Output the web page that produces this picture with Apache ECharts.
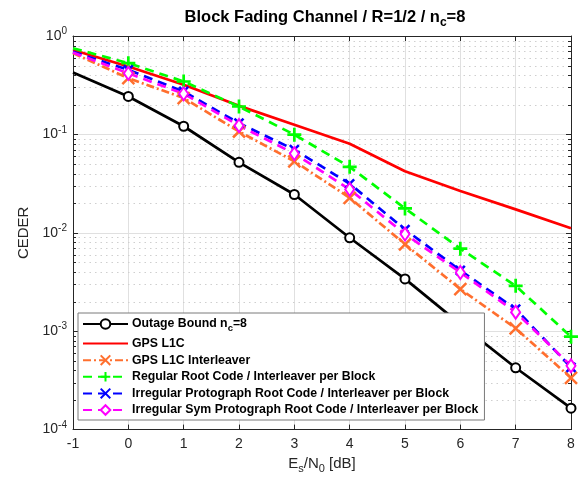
<!DOCTYPE html>
<html><head><meta charset="utf-8">
<script src="https://cdn.jsdelivr.net/npm/echarts@6/dist/echarts.min.js"></script>
<style>html,body{margin:0;padding:0;background:#fff}#c{width:578px;height:479px}</style>
</head><body><div id="c"></div>
<script>
const xValues = [-1, 0, 1, 2, 3, 4, 5, 6, 7, 8];
const outageBound = [0.426, 0.243, 0.121, 0.052, 0.0245, 0.0089, 0.0034, 0.00118, 0.000425, 0.000165];
const gpsL1C = [0.72, 0.489, 0.319, 0.195, 0.1256, 0.0805, 0.0423, 0.0266, 0.0173, 0.0111];
const gpsL1CInterleaver = [0.67, 0.373, 0.234, 0.107, 0.0533, 0.0227, 0.00764, 0.00268, 0.00107, 0.000335];
const regularRoot = [0.75, 0.53, 0.345, 0.192, 0.0994, 0.0468, 0.0177, 0.0069, 0.00289, 0.00088];
const irregularProto = [0.69, 0.453, 0.273, 0.13, 0.070, 0.0315, 0.0108, 0.00415, 0.00168, 0.00043];
const irregularSymProto = [0.68, 0.418, 0.259, 0.123, 0.0638, 0.0276, 0.0097, 0.00395, 0.00156, 0.000445];
const seriesNames = ['Outage Bound n_c=8', 'GPS L1C', 'GPS L1C Interleaver', 'Regular Root Code / Interleaver per Block', 'Irregular Protograph Root Code / Interleaver per Block', 'Irregular Sym Protograph Root Code / Interleaver per Block'];
const xTicks = [-1, 0, 1, 2, 3, 4, 5, 6, 7, 8];
const yDecades = [1e-4, 1e-3, 1e-2, 1e-1, 1];
const minorTicks = [];
for (let d = -4; d < 0; d++) for (let m = 2; m <= 9; m++) minorTicks.push(m * Math.pow(10, d));

const TXT = '#262626';
const FONT = '"Liberation Sans", Arial, Helvetica, sans-serif';

function pts(arr, markers) {
  return arr.map((v, i) => ({ value: [xValues[i], v], symbol: (markers && i > 0) ? undefined : 'none' }));
}
const X_PATH = 'path://M0,0L10,10M10,0L0,10';
const PLUS_PATH = 'path://M5,0L5,10M0,5L10,5';
const DIAMOND = 'path://M5,0L9,7L5,14L1,7Z';

const chart = echarts.init(document.getElementById('c'), null, { renderer: 'canvas' });
const option = {
  animation: false,
  backgroundColor: '#fff',
  title: {
    text: '{t|Block Fading Channel / R=1/2 / n}{s|c}{t|=8}',
    left: 320, textAlign: 'center', top: 4,
    textStyle: {
      rich: {
        t: { fontFamily: FONT, fontSize: 16.5, fontWeight: 'bold', color: '#000' },
        s: { fontFamily: FONT, fontSize: 12, fontWeight: 'bold', color: '#000', padding: [0, 0, -10, 0] }
      }
    }
  },
  grid: { left: 73, right: 7, top: 36, bottom: 48, containLabel: false },
  legend: {
    orient: 'vertical', left: 78, top: 313, z: 20,
    backgroundColor: '#fff', borderColor: '#7a7a7a', borderWidth: 1,
    padding: [5, 6, 4, 4], itemGap: 4.6, itemWidth: 45, itemHeight: 12,
    data: seriesNames.map(n => n === 'GPS L1C'
      ? { name: n, itemStyle: { opacity: 0, color: 'rgba(0,0,0,0)', borderColor: 'rgba(0,0,0,0)' } }
      : { name: n }),
    formatter: function (name) {
      if (name === seriesNames[0]) return '{a|Outage Bound n}{s|c}{a|=8}';
      return '{a|' + name + '}';
    },
    textStyle: {
      fontFamily: FONT, fontSize: 12.3, fontWeight: 'bold', color: '#000', padding: [0, 0, 0, -1],
      rich: {
        a: { fontFamily: FONT, fontSize: 12.3, fontWeight: 'bold', color: '#000' },
        s: { fontFamily: FONT, fontSize: 9.5, fontWeight: 'bold', color: '#000', padding: [0, 0, -8, 0] }
      }
    }
  },
  xAxis: [{
    type: 'value', min: -1, max: 8, interval: 1, position: 'bottom',
    name: '{n|E}{s|s}{n|/N}{s|0}{n| [dB]}', nameLocation: 'middle', nameGap: 25,
    nameTextStyle: { rich: {
      n: { fontFamily: FONT, fontSize: 15, color: TXT },
      s: { fontFamily: FONT, fontSize: 11, color: TXT, padding: [0, 0, -9, 0] }
    } },
    axisLine: { show: true, onZero: false, lineStyle: { color: TXT, width: 1 } },
    axisTick: { show: true, inside: true, length: 5, lineStyle: { color: TXT } },
    axisLabel: { fontFamily: FONT, fontSize: 14, color: TXT, margin: 8 },
    splitLine: { show: true, lineStyle: { color: '#e0e0e0', width: 1 } }
  }, {
    type: 'value', min: -1, max: 8, interval: 1, position: 'top',
    axisLine: { show: true, onZero: false, lineStyle: { color: TXT, width: 1 } },
    axisTick: { show: true, inside: true, length: 5, lineStyle: { color: TXT } },
    axisLabel: { show: false }, splitLine: { show: false }
  }],
  yAxis: [{
    type: 'log', logBase: 10, min: 1e-4, max: 1, position: 'left',
    name: 'CEDER', nameLocation: 'middle', nameGap: 42, nameRotate: 90,
    nameTextStyle: { fontFamily: FONT, fontSize: 15, color: TXT },
    axisLine: { show: true, onZero: false, lineStyle: { color: TXT, width: 1 } },
    axisTick: { show: true, inside: true, length: 5, lineStyle: { color: TXT } },
    axisLabel: {
      margin: 6,
      formatter: function (v) { const e = Math.round(Math.log10(v)); return '{b|10}{e|' + e + '}'; },
      rich: {
        b: { fontFamily: FONT, fontSize: 14, color: TXT },
        e: { fontFamily: FONT, fontSize: 10, color: TXT, padding: [0, 0, 9, 0] }
      }
    },
    splitLine: { show: true, lineStyle: { color: '#e0e0e0', width: 1 } }
  }, {
    type: 'log', logBase: 10, min: 1e-4, max: 1, position: 'right',
    axisLine: { show: true, onZero: false, lineStyle: { color: TXT, width: 1 } },
    axisTick: { show: true, inside: true, length: 5, lineStyle: { color: TXT } },
    axisLabel: { show: false }, splitLine: { show: false }
  }],
  series: [
    {
      type: 'custom', name: '_minor', silent: true, z: 1,
      data: minorTicks.map(v => [-1, v]), encode: { x: 0, y: 1 },
      renderItem: function (params, api) {
        const y = Math.round(api.coord([-1, api.value(1)])[1]) + 0.5;
        const cs = params.coordSys;
        const x0 = cs.x, x1 = cs.x + cs.width;
        return { type: 'group', children: [
          { type: 'line', shape: { x1: x0, y1: y, x2: x1, y2: y }, style: { stroke: '#cfcfcf', lineWidth: 1, lineDash: [1.5, 4] } },
          { type: 'line', shape: { x1: x0, y1: y, x2: x0 + 3, y2: y }, style: { stroke: TXT, lineWidth: 1 } },
          { type: 'line', shape: { x1: x1 - 3, y1: y, x2: x1, y2: y }, style: { stroke: TXT, lineWidth: 1 } }
        ] };
      }
    },
    {
      name: seriesNames[0], type: 'line', data: pts(outageBound, true), color: '#000',
      symbol: 'circle', symbolSize: 9, showAllSymbol: true,
      lineStyle: { color: '#000', width: 2.7 },
      itemStyle: { color: '#fff', borderColor: '#000', borderWidth: 2 }, z: 3
    },
    {
      name: seriesNames[1], type: 'line', data: pts(gpsL1C, false), color: '#ff0000',
      symbol: 'none', showSymbol: false,
      lineStyle: { color: '#ff0000', width: 2.7 }, z: 3
    },
    {
      name: seriesNames[2], type: 'line', data: pts(gpsL1CInterleaver, true), color: '#ff6f2e',
      symbol: X_PATH, symbolSize: 12, showAllSymbol: true,
      lineStyle: { color: '#ff6f2e', width: 2.7, type: [8, 3, 2, 3] },
      itemStyle: { color: '#ff6f2e', borderColor: '#ff6f2e', borderWidth: 2.5 }, z: 3
    },
    {
      name: seriesNames[3], type: 'line', data: pts(regularRoot, true), color: '#00ff00',
      symbol: PLUS_PATH, symbolSize: 14, showAllSymbol: true,
      lineStyle: { color: '#00ff00', width: 2.7, type: [9, 6] },
      itemStyle: { color: '#00ff00', borderColor: '#00ff00', borderWidth: 2.7 }, z: 3
    },
    {
      name: seriesNames[4], type: 'line', data: pts(irregularProto, true), color: '#0000ff',
      symbol: X_PATH, symbolSize: 9, showAllSymbol: true,
      lineStyle: { color: '#0000ff', width: 2.7, type: [9, 6] },
      itemStyle: { color: '#0000ff', borderColor: '#0000ff', borderWidth: 2.5 }, z: 3
    },
    {
      name: seriesNames[5], type: 'line', data: pts(irregularSymProto, true), color: '#ff00ff',
      symbol: DIAMOND, symbolSize: [9, 13], showAllSymbol: true,
      lineStyle: { color: '#ff00ff', width: 2.7, type: [9, 6] },
      itemStyle: { color: '#fff', borderColor: '#ff00ff', borderWidth: 2 }, z: 3
    }
  ]
};
chart.setOption(option);
</script>
</body></html>
